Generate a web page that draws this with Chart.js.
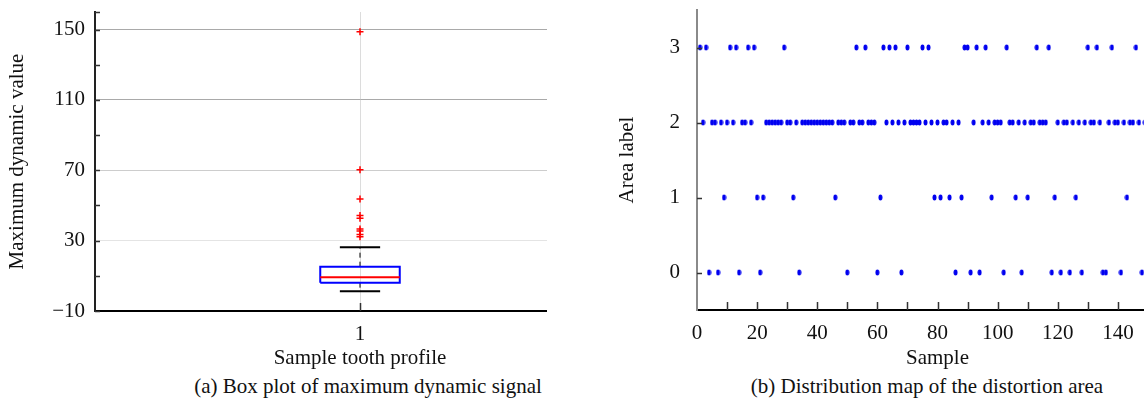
<!DOCTYPE html>
<html>
<head>
<meta charset="utf-8">
<title>Box plot and distortion area distribution</title>
<script src="https://cdn.jsdelivr.net/npm/chart.js"></script>
<style>
  html, body { margin: 0; padding: 0; background: #fff; }
  body { width: 1144px; height: 404px; position: relative; overflow: hidden; font-family: "Liberation Serif", "Times New Roman", serif; }
  #boxWrap { position: absolute; left: 0; top: 0; width: 547px; height: 372px; overflow: hidden; }
  #boxChart { position: absolute; left: 0; top: 0; }
  #areaChart { position: absolute; left: 600px; top: 0; }
  .caption { position: absolute; top: 374px; font-size: 21px; line-height: 24px; color: #111; white-space: nowrap; transform: translateX(-50%); }
</style>
</head>
<body>
<div id="boxWrap"><canvas id="boxChart" width="640" height="372"></canvas></div>
<canvas id="areaChart" width="600" height="372"></canvas>
<div class="caption" style="left:368px">(a) Box plot of maximum dynamic signal</div>
<div class="caption" style="left:927px">(b) Distribution map of the distortion area</div>
<script>
// (a) box plot values
const boxCategory = [1];
const boxLower = [1.2];
const boxQ1 = [6.1];
const boxMedian = [9.2];
const boxQ3 = [15.2];
const boxUpper = [26.3];
const boxOutliers = [148.8, 70.3, 53.7, 44.3, 42.8, 36.6, 35.5, 33.5, 32.2];
const boxYTicks = [-10, 10, 30, 50, 70, 90, 110, 130, 150, 160];
const boxYLabels = ['\u221210', null, '30', null, '70', null, '110', null, '150', null];

// (b) area label of each sample (sample 1..150)
const areaLabel = [
  3, 2, 3, 0, 2, 2, 0, 2, 1, 2,
  3, 2, 3, 0, 2, 2, 3, 2, 3, 1,
  0, 1, 2, 2, 2, 2, 2, 2, 3, 2,
  2, 1, 2, 0, 2, 2, 2, 2, 2, 2,
  2, 2, 2, 2, 2, 1, 2, 2, 2, 0,
  2, 2, 3, 2, 2, 3, 2, 2, 2, 0,
  1, 3, 2, 3, 2, 3, 2, 0, 2, 3,
  2, 2, 2, 2, 3, 2, 3, 2, 1, 2,
  1, 2, 2, 1, 2, 0, 2, 1, 3, 3,
  0, 2, 3, 0, 2, 3, 2, 1, 2, 2,
  2, 0, 3, 2, 2, 1, 2, 0, 2, 1,
  2, 2, 3, 2, 2, 2, 3, 0, 1, 2,
  0, 2, 2, 0, 2, 1, 2, 0, 2, 3,
  2, 2, 3, 2, 0, 0, 2, 3, 2, 2,
  0, 2, 1, 2, 2, 3, 2, 0, 2, 2
];
const areaXTicks = [0, 20, 40, 60, 80, 100, 120, 140];
const areaXMinor = [10, 20, 30, 40, 50, 60, 70, 80, 90, 100, 110, 120, 130, 140, 150];
const areaYTicks = [0, 1, 2, 3];

const FONT = { family: "'Liberation Serif', 'Times New Roman', serif", size: 21 };
const TEXT = '#111';

// short tick marks pointing into the plot
const innerTicks = {
  id: 'innerTicks',
  afterDatasetsDraw(chart, args, opts) {
    const { ctx, chartArea, scales } = chart;
    ctx.save();
    ctx.strokeStyle = opts.color;
    ctx.lineWidth = opts.width;
    ctx.beginPath();
    (opts.x || []).forEach(v => {
      const px = Math.round(scales.x.getPixelForValue(v)) + 0.5;
      ctx.moveTo(px, chartArea.bottom);
      ctx.lineTo(px, chartArea.bottom - opts.xLength);
    });
    (opts.y || []).forEach(v => {
      const py = Math.round(scales.y.getPixelForValue(v)) + 0.5;
      ctx.moveTo(chartArea.left, py);
      ctx.lineTo(chartArea.left + opts.yLength, py);
    });
    ctx.stroke();
    ctx.restore();
  }
};

// fixed axis boxes so the plot area sits where the figure has it
const fixWidth = w => s => { s.width = w; s.paddingTop = 0; s.paddingBottom = 0; };
const fixHeight = h => s => { s.height = h; s.paddingLeft = 0; s.paddingRight = 0; };

// ---------- (a) box plot ----------
const bx = boxCategory[0];
const bw = 0.075, cw = 0.038;
const seg = (x1, y1, x2, y2) => [{ x: x1, y: y1 }, { x: x2, y: y2 }];
const lineDs = (data, color, width, dash) => ({
  data, showLine: true, borderColor: color, borderWidth: width,
  borderDash: dash || [], pointRadius: 0, tension: 0, fill: false
});

function gridShade(ctx) {
  const v = ctx.tick ? ctx.tick.value : 0;
  if (v >= 160) return '#ececec';
  if (v >= 90) return '#a9a9a9';
  if (v >= 70) return '#cdcdcd';
  return '#e4e4e4';
}

new Chart(document.getElementById('boxChart'), {
  type: 'scatter',
  data: {
    datasets: [
      {
        data: boxOutliers.map(v => ({ x: bx, y: v })),
        pointStyle: 'cross', pointRadius: 3.5, borderColor: '#ff0000', borderWidth: 1.5
      },
      lineDs(seg(bx - bw, boxMedian[0], bx + bw, boxMedian[0]), '#ff0000', 2),
      lineDs([
        { x: bx - bw, y: boxQ1[0] }, { x: bx + bw, y: boxQ1[0] },
        { x: bx + bw, y: boxQ3[0] }, { x: bx - bw, y: boxQ3[0] },
        { x: bx - bw, y: boxQ1[0] }
      ], '#0000ff', 2),
      lineDs(seg(bx - cw, boxUpper[0], bx + cw, boxUpper[0]), '#000', 2),
      lineDs(seg(bx - cw, boxLower[0], bx + cw, boxLower[0]), '#000', 2),
      lineDs(seg(bx, boxQ3[0], bx, boxUpper[0]), '#000', 1, [5, 4]),
      lineDs(seg(bx, boxQ1[0], bx, boxLower[0]), '#000', 1, [5, 4])
    ]
  },
  options: {
    responsive: false,
    animation: false,
    devicePixelRatio: 1,
    layout: { padding: { top: 12, right: 15, left: 0, bottom: 0 } },
    scales: {
      x: {
        type: 'linear', min: 0.5, max: 1.5,
        afterBuildTicks: s => { s.ticks = boxCategory.map(v => ({ value: v })); },
        afterFit: fixHeight(61),
        ticks: { font: FONT, color: TEXT, padding: 11, callback: v => String(v) },
        grid: { color: '#dcdcdc', lineWidth: 1, drawTicks: false },
        border: { color: '#000', width: 2 },
        title: { display: true, text: 'Sample tooth profile', font: FONT, color: TEXT, padding: { top: 4, bottom: 1 } }
      },
      y: {
        type: 'linear', min: -10, max: 160,
        afterBuildTicks: s => { s.ticks = boxYTicks.map(v => ({ value: v })); },
        afterFit: fixWidth(95),
        ticks: { font: FONT, color: TEXT, padding: 10, callback: (v, i) => boxYLabels[i] },
        grid: { color: gridShade, lineWidth: 1, drawTicks: false },
        border: { color: '#222', width: 2 },
        title: { display: true, text: 'Maximum dynamic value', font: FONT, color: TEXT, padding: { top: 5, bottom: 4 } }
      }
    },
    plugins: {
      legend: { display: false },
      tooltip: { enabled: false },
      innerTicks: { x: boxCategory, y: boxYTicks, xLength: 8, yLength: 5, color: '#333', width: 1.5 }
    }
  },
  plugins: [innerTicks]
});

// ---------- (b) distribution map ----------
function ellipseDot(color) {
  const c = document.createElement('canvas');
  c.width = 5; c.height = 7;
  const g = c.getContext('2d');
  g.fillStyle = color;
  g.beginPath();
  g.ellipse(2.5, 3.5, 2.0, 2.9, 0, 0, Math.PI * 2);
  g.fill();
  return c;
}

new Chart(document.getElementById('areaChart'), {
  type: 'scatter',
  data: {
    datasets: [{
      data: areaLabel.map((v, i) => ({ x: i + 1, y: v })),
      pointStyle: ellipseDot('#0000f0'),
      pointRadius: 3,
      backgroundColor: '#0000f0',
      borderColor: '#0000f0'
    }]
  },
  options: {
    responsive: false,
    animation: false,
    devicePixelRatio: 1,
    layout: { padding: { top: 10, right: 22, left: 11, bottom: 0 } },
    scales: {
      x: {
        type: 'linear', min: 0, max: 160,
        afterBuildTicks: s => { s.ticks = areaXTicks.map(v => ({ value: v })); },
        afterFit: fixHeight(62),
        ticks: { font: FONT, color: TEXT, padding: 11 },
        grid: { display: false, drawTicks: false },
        border: { color: '#000', width: 2 },
        title: { display: true, text: 'Sample', font: FONT, color: TEXT, padding: { top: 4, bottom: 1 } }
      },
      y: {
        type: 'linear', min: -0.5, max: 3.5,
        afterBuildTicks: s => { s.ticks = areaYTicks.map(v => ({ value: v })); },
        afterFit: fixWidth(86),
        ticks: { font: FONT, color: TEXT, padding: 17 },
        grid: { display: false, drawTicks: false },
        border: { color: '#8a8a8a', width: 2 },
        title: { display: true, text: 'Area label', font: FONT, color: TEXT, padding: { top: 4, bottom: 4 } }
      }
    },
    plugins: {
      legend: { display: false },
      tooltip: { enabled: false },
      innerTicks: { x: areaXMinor, y: areaYTicks, xLength: 8, yLength: 5, color: '#333', width: 1.5 }
    }
  },
  plugins: [innerTicks]
});
</script>
</body>
</html>
